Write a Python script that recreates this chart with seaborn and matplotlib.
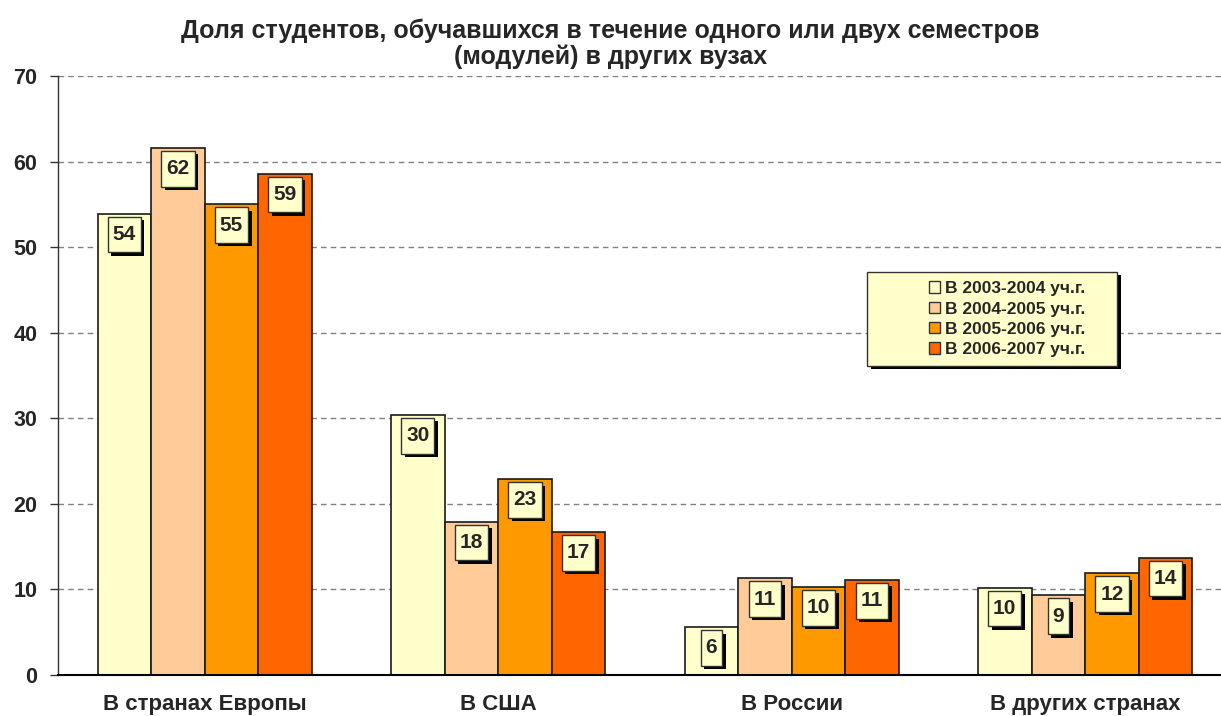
import matplotlib
matplotlib.use('Agg')
import matplotlib.pyplot as plt
import matplotlib.patheffects as pe
from matplotlib.patches import Patch, Rectangle
from matplotlib.path import Path
import pandas as pd
import seaborn as sns

# data
categories = ['В странах Европы', 'В США', 'В России', 'В других странах']
years = ['В 2003-2004 уч.г.', 'В 2004-2005 уч.г.', 'В 2005-2006 уч.г.', 'В 2006-2007 уч.г.']
vals_2003 = [53.9, 30.4, 5.6, 10.2]
vals_2004 = [61.6, 17.9, 11.3, 9.3]
vals_2005 = [55.0, 22.9, 10.3, 11.9]
vals_2006 = [58.6, 16.7, 11.1, 13.7]
colors = ['#FFFFCC', '#FFCC99', '#FF9900', '#FF6600']

rows = []
for year, vals in zip(years, [vals_2003, vals_2004, vals_2005, vals_2006]):
    for cat, v in zip(categories, vals):
        rows.append({'cat': cat, 'year': year, 'val': v})
df = pd.DataFrame(rows)


def tall_box(x0, y0, width, height, mutation_size):
    # label box a bit taller than wide, like the Excel data labels
    px = 0.24 * mutation_size
    py = 0.40 * mutation_size
    x1, y1 = x0 + width + px, y0 + height + py
    x0, y0 = x0 - px, y0 - py
    return Path([(x0, y0), (x1, y0), (x1, y1), (x0, y1), (x0, y0)],
                closed=True)


sns.set_style('white')
plt.rcParams['font.family'] = ['Liberation Sans', 'DejaVu Sans']
plt.rcParams['font.weight'] = 'bold'

fig = plt.figure(figsize=(12.21, 7.16), dpi=100)
ax = fig.add_axes([58 / 1221, 41 / 716, 1163 / 1221, 599 / 716])

sns.barplot(data=df, x='cat', y='val', hue='year', order=categories, hue_order=years,
            palette=colors, edgecolor='#1a1a1a', linewidth=1.2, width=0.73,
            saturation=1, legend=False, ax=ax)

ax.set_xlim(-0.5, 3.463)
ax.set_ylim(0, 70)
ax.set_yticks(range(0, 71, 10))
ax.set_axisbelow(True)
ax.yaxis.grid(True, color='#808080', linestyle=(0, (4, 3)), linewidth=1)
ax.xaxis.grid(False)
ax.set_xlabel('')
ax.set_ylabel('')

for s in ['top', 'right']:
    ax.spines[s].set_visible(False)
ax.spines['left'].set_color('#333333')
ax.spines['left'].set_linewidth(1)
ax.spines['bottom'].set_color('black')
ax.spines['bottom'].set_linewidth(1.5)

ax.tick_params(axis='y', direction='out', length=6, width=1, color='#333333',
               pad=9, labelsize=15.5, left=True)
ax.tick_params(axis='x', length=0, pad=14, labelsize=16)
for lab in ax.get_xticklabels() + ax.get_yticklabels():
    lab.set_fontweight('bold')

# value labels in little boxes with a shadow
for cont in ax.containers:
    for bar in cont:
        h = bar.get_height()
        t = ax.annotate(f'{h:.0f}', (bar.get_x() + bar.get_width() / 2, h),
                        xytext=(0, -15), textcoords='offset points',
                        ha='center', va='center', fontsize=15, fontweight='bold',
                        bbox=dict(boxstyle=tall_box, fc='#FFFFCC',
                                  ec='#333333', lw=1))
        t.get_bbox_patch().set_path_effects(
            [pe.withSimplePatchShadow(offset=(2.5, -2.5), shadow_rgbFace='black', alpha=1)])

# legend frame
frame = Rectangle((0.696, 0.516), 0.215, 0.157, transform=ax.transAxes,
                  fc='#FFFFCC', ec='#333333', lw=1, zorder=5)
frame.set_path_effects([pe.withSimplePatchShadow(offset=(2.5, -2.5),
                                                 shadow_rgbFace='black', alpha=1)])
ax.add_patch(frame)

handles = [Patch(fc=c, ec='#333333', lw=1) for c in colors]
leg = ax.legend(handles, years, loc='center', bbox_to_anchor=(0.816, 0.594),
                frameon=False, fontsize=12.5, handlelength=0.65, handleheight=0.65,
                handletextpad=0.3, labelspacing=0.3, borderaxespad=0)
leg.set_zorder(6)
for txt in leg.get_texts():
    txt.set_fontweight('bold')

fig.text(0.5, 1 - 43.5 / 716,
         'Доля студентов, обучавшихся в течение одного или двух семестров\n(модулей) в других вузах',
         ha='center', va='center', fontsize=18, fontweight='bold', linespacing=1.1)

fig.savefig('out.png', dpi=100)
